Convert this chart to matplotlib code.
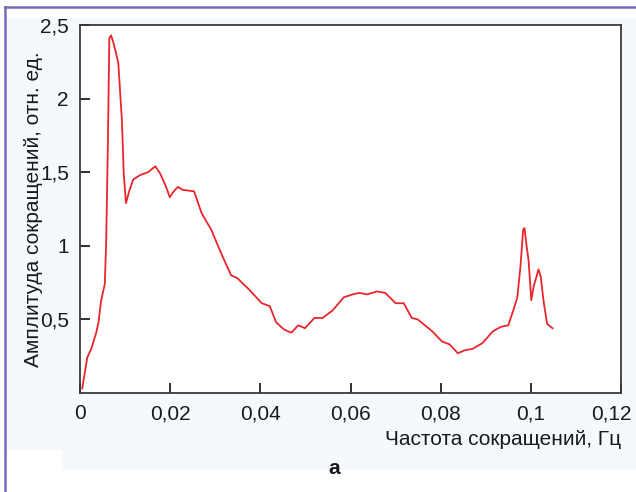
"""Amplitude spectrum of contractions (fig. a)."""

import matplotlib
matplotlib.use("Agg")
import matplotlib.pyplot as plt
import matplotlib.transforms as mtransforms
from matplotlib.patches import Rectangle
from matplotlib.lines import Line2D
from matplotlib.ticker import FixedLocator, FixedFormatter

# frequency, Hz
freq = [
    0.0005, 0.0016, 0.0025, 0.0036, 0.0041, 0.0047, 0.0055, 0.0058, 0.0062, 0.0065,
    0.0069, 0.0075, 0.0082, 0.0085, 0.0093, 0.0097, 0.0102, 0.0109, 0.0118, 0.0133,
    0.0151, 0.0167, 0.0178, 0.0191, 0.0199, 0.0208, 0.0217, 0.0228, 0.0253, 0.0270,
    0.0291, 0.0313, 0.0335, 0.0349, 0.0376, 0.0403, 0.0421, 0.0435, 0.0453, 0.0469,
    0.0484, 0.0499, 0.0520, 0.0538, 0.0560, 0.0585, 0.0605, 0.0619, 0.0637, 0.0659,
    0.0677, 0.0700, 0.0718, 0.0736, 0.0749, 0.0781, 0.0803, 0.0820, 0.0838, 0.0853,
    0.0871, 0.0893, 0.0916, 0.0934, 0.0950, 0.0961, 0.0970, 0.0977, 0.0983, 0.0986,
    0.0991, 0.0995, 0.1001, 0.1006, 0.1017, 0.1022, 0.1028, 0.1036, 0.1048,
]
# amplitude, rel. units
amp = [
    0.03, 0.24, 0.30, 0.41, 0.48, 0.63, 0.74, 1.02, 1.72, 2.41,
    2.43, 2.37, 2.28, 2.24, 1.85, 1.49, 1.29, 1.37, 1.45, 1.48,
    1.50, 1.54, 1.49, 1.40, 1.33, 1.37, 1.40, 1.38, 1.37, 1.22,
    1.11, 0.95, 0.80, 0.78, 0.70, 0.61, 0.59, 0.48, 0.43, 0.41,
    0.46, 0.44, 0.51, 0.51, 0.56, 0.65, 0.67, 0.68, 0.67, 0.69,
    0.68, 0.61, 0.61, 0.51, 0.50, 0.42, 0.35, 0.33, 0.27, 0.29,
    0.30, 0.34, 0.42, 0.45, 0.46, 0.56, 0.65, 0.86, 1.11, 1.12,
    0.99, 0.90, 0.63, 0.72, 0.84, 0.79, 0.63, 0.47, 0.44,
]

x_ticks = [0, 0.02, 0.04, 0.06, 0.08, 0.1, 0.12]
x_labels = ["0", "0,02", "0,04", "0,06", "0,08", "0,1", "0,12"]
y_ticks = [0.5, 1, 1.5, 2, 2.5]
y_labels = ["0,5", "1", "1,5", "2", "2,5"]

W, H = 636, 492


def main() -> None:
    plt.rcParams["font.family"] = ["Liberation Sans", "DejaVu Sans"]
    fig = plt.figure(figsize=(W / 100, H / 100), dpi=100)
    fig.patch.set_facecolor("white")

    # light tinted panel behind the chart
    tint = "#f5f8fc"
    fig.patches.append(Rectangle((6 / W, (H - 450) / H), (W - 6) / W, (450 - 18) / H,
                                 transform=fig.transFigure, facecolor=tint, edgecolor="none", zorder=-5))
    fig.patches.append(Rectangle((62 / W, (H - 470) / H), (W - 62) / W, 20 / H,
                                 transform=fig.transFigure, facecolor=tint, edgecolor="none", zorder=-5))
    # purple frame lines (top and left)
    border = "#7a66bd"
    fig.lines.append(Line2D([5 / W, 1], [(H - 7) / H, (H - 7) / H], transform=fig.transFigure,
                            color=border, linewidth=1.8))
    fig.lines.append(Line2D([5 / W, 5 / W], [0, (H - 7) / H], transform=fig.transFigure,
                            color=border, linewidth=1.8))

    ax = fig.add_axes([80 / W, (H - 393) / H, (621 - 80) / W, (393 - 25) / H])
    ax.set_facecolor("white")
    ax.plot(freq, amp, color="#e8262c", linewidth=1.3)

    ax.set_xlim(0, 0.12)
    ax.set_ylim(0, 2.5)
    ax.xaxis.set_major_locator(FixedLocator(x_ticks))
    ax.xaxis.set_major_formatter(FixedFormatter(x_labels))
    ax.yaxis.set_major_locator(FixedLocator(y_ticks))
    ax.yaxis.set_major_formatter(FixedFormatter(y_labels))
    ax.tick_params(direction="in", length=7, width=1.3, color="#222222",
                   labelsize=15, labelcolor="#1a1a1a", pad=8)
    for s in ax.spines.values():
        s.set_color("#3a3a3a")
        s.set_linewidth(1.3)

    # keep the last x label inside the figure, as in the original
    last = ax.xaxis.get_major_ticks()[-1].label1
    last.set_transform(last.get_transform()
                       + mtransforms.ScaledTranslation(-10 / 100, 0, fig.dpi_scale_trans))

    ax.set_xlabel("Частота сокращений, Гц", loc="right", fontsize=15, color="#1a1a1a", labelpad=5)
    ax.set_ylabel("Амплитуда сокращений, отн. ед.", fontsize=15, color="#1a1a1a", labelpad=-2)

    fig.text(334 / W, (H - 468) / H, "а", ha="center", va="center", fontsize=15,
             weight="bold", color="#1a1a1a")

    fig.savefig("out.png", dpi=100, facecolor="white")
    plt.close(fig)


if __name__ == "__main__":
    main()
